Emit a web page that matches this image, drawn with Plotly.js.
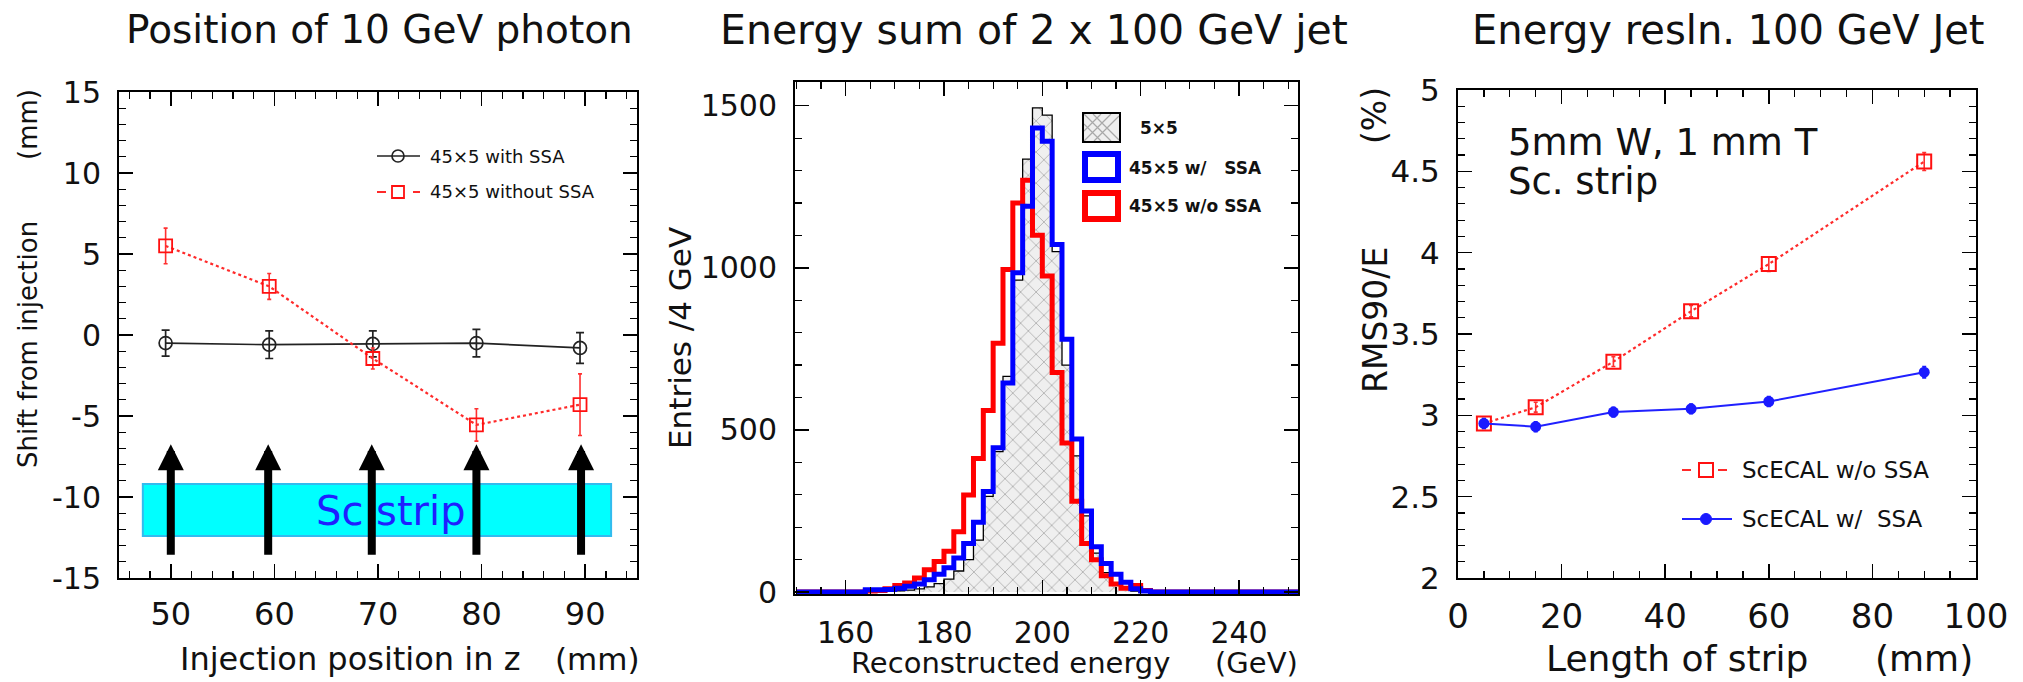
<!DOCTYPE html>
<html><head><meta charset="utf-8">
<script src="https://cdn.plot.ly/plotly-3.0.1.min.js"></script>
<style>html,body{margin:0;padding:0;background:#fff;} #chart{width:2023px;height:682px;}</style>
</head><body><div id="chart"></div>
<script>
// ---------- Panel 1: Position of 10 GeV photon ----------
const injectionZ = [49.5, 59.5, 69.5, 79.5, 89.5];
const shiftWithSSA = [-0.5, -0.6, -0.55, -0.5, -0.8];
const shiftWithSSAErr = [0.8, 0.85, 0.8, 0.85, 0.95];
const shiftWithoutSSA = [5.5, 3.0, -1.45, -5.55, -4.3];
const shiftWithoutSSAErr = [1.1, 0.8, 0.65, 1.0, 1.9];
const arrowZ = [50, 59.4, 69.4, 79.5, 89.6];
const shiftTickVals = [-15, -10, -5, 0, 5, 10, 15];
const shiftTickText = ['-15', '-10', '-5', '0', '5', '10', '15'];

// ---------- Panel 2: Energy sum of 2 x 100 GeV jet ----------
const energyEdges = [150, 164, 166, 168, 170, 172, 174, 176, 178, 180, 182, 184, 186, 188, 190, 192, 194, 196, 198, 200, 202, 204, 206, 208, 210, 212, 214, 216, 218, 220, 222, 252];
const entries5x5 = [0, 0, 2, 3, 4, 6, 10, 16, 26, 40, 65, 100, 160, 295, 433, 665, 962, 1335, 1493, 1471, 1050, 700, 420, 235, 120, 60, 25, 8, 3, 1, 0, 0];
const entriesWithSSA = [0, 7, 7, 8, 12, 18, 25, 38, 55, 75, 105, 150, 215, 310, 445, 645, 985, 1190, 1431, 1390, 1072, 780, 472, 250, 140, 88, 55, 30, 10, 3, 0, 0];
const entriesWithoutSSA = [0, 3, 5, 10, 20, 28, 43, 69, 94, 126, 186, 299, 412, 560, 767, 995, 1200, 1270, 1100, 975, 677, 460, 280, 150, 100, 50, 25, 12, 20, 5, 0, 0];

// ---------- Panel 3: Energy resln. 100 GeV Jet ----------
const stripLength = [5, 15, 30, 45, 60, 90];
const rmsWithoutSSA = [2.95, 3.05, 3.33, 3.64, 3.93, 4.56];
const rmsWithoutSSAErr = [0.03, 0.03, 0.03, 0.035, 0.045, 0.055];
const rmsWithSSA = [2.95, 2.93, 3.02, 3.04, 3.085, 3.265];
const rmsWithSSAErr = [0.03, 0.03, 0.03, 0.03, 0.03, 0.035];

// ---------- layout helpers (pixel -> paper) ----------
const W = 2023, H = 682;
const px = v => v / W;
const py = v => 1 - v / H;
const FONT = 'DejaVu Sans, Liberation Sans, Arial, sans-serif';

function frameAxis(extra) {
  return Object.assign({
    showline: true, linecolor: '#000', linewidth: 2, mirror: 'allticks',
    ticks: 'inside', ticklen: 14, tickwidth: 1.5, tickcolor: '#000',
    showgrid: false, zeroline: false, fixedrange: true,
    tickfont: {family: FONT, size: 30, color: '#111'}
  }, extra);
}

const traces = [
  // panel 1
  {x: injectionZ, y: shiftWithSSA, xaxis: 'x', yaxis: 'y', type: 'scatter', mode: 'lines+markers',
   line: {color: '#222', width: 1.7},
   marker: {symbol: 'circle-open', size: 13, color: '#222', line: {width: 1.7}},
   error_y: {type: 'data', array: shiftWithSSAErr, visible: true, color: '#222', thickness: 1.7, width: 4}},
  {x: injectionZ, y: shiftWithoutSSA, xaxis: 'x', yaxis: 'y', type: 'scatter', mode: 'lines+markers',
   line: {color: '#ff2a2a', width: 2.2, dash: 'dot'},
   marker: {symbol: 'square-open', size: 13, color: '#ff1010', line: {width: 1.8}},
   error_y: {type: 'data', array: shiftWithoutSSAErr, visible: true, color: '#ff3030', thickness: 1.6, width: 2}},
  // panel 2
  {x: energyEdges, y: entries5x5, xaxis: 'x2', yaxis: 'y2', type: 'scatter', mode: 'lines',
   line: {color: '#000', width: 1.3, shape: 'hv'}, fill: 'tozeroy', fillcolor: '#eeeeee',
   fillpattern: {shape: 'x', bgcolor: '#efefef', fgcolor: '#a9a9a9', size: 11, solidity: 0.14}},
  {x: energyEdges, y: entriesWithoutSSA, xaxis: 'x2', yaxis: 'y2', type: 'scatter', mode: 'lines',
   line: {color: '#ff0000', width: 5, shape: 'hv'}},
  {x: energyEdges, y: entriesWithSSA, xaxis: 'x2', yaxis: 'y2', type: 'scatter', mode: 'lines',
   line: {color: '#0000ff', width: 5, shape: 'hv'}},
  // panel 3
  {x: stripLength, y: rmsWithoutSSA, xaxis: 'x3', yaxis: 'y3', type: 'scatter', mode: 'lines+markers',
   line: {color: '#ff2a2a', width: 2.2, dash: 'dot'},
   marker: {symbol: 'square-open', size: 14, color: '#ff1010', line: {width: 2}},
   error_y: {type: 'data', array: rmsWithoutSSAErr, visible: true, color: '#ff3030', thickness: 1.6, width: 2}},
  {x: stripLength, y: rmsWithSSA, xaxis: 'x3', yaxis: 'y3', type: 'scatter', mode: 'lines+markers',
   line: {color: '#2020ff', width: 2},
   marker: {symbol: 'circle', size: 11, color: '#1a1aff'},
   error_y: {type: 'data', array: rmsWithSSAErr, visible: true, color: '#1a1aff', thickness: 1.6, width: 2}}
];

function ann(text, x, y, size, opts) {
  return Object.assign({text: text, x: px(x), y: py(y), xref: 'paper', yref: 'paper',
    showarrow: false, font: {family: FONT, size: size, color: '#111'}, xanchor: 'center', yanchor: 'middle'}, opts || {});
}

const annotations = [
  ann('Position of 10 GeV photon', 379, 30, 39),
  ann('Energy sum of 2 x 100 GeV jet', 1034, 30, 41),
  ann('Energy resln. 100 GeV Jet', 1728, 30, 40),
  // panel 1 axis titles
  ann('Shift from injection', 28, 345, 26, {textangle: -90}),
  ann('(mm)', 28, 125, 26, {textangle: -90}),
  ann('Injection position in z', 350, 659, 32),
  ann('(mm)', 597, 659, 31),
  // panel 1 legend text
  ann('45×5 with SSA', 428, 156, 18, {xanchor: 'left'}),
  ann('45×5 without SSA', 428, 192, 18, {xanchor: 'left'}),
  // Sc strip label
  {text: 'Sc strip', x: 71.3, y: -10.85, xref: 'x', yref: 'y', showarrow: false,
   font: {family: FONT, size: 40, color: '#1f1fff'}},
  // panel 2 axis titles
  ann('Entries /4 GeV', 680, 338, 31, {textangle: -90}),
  ann('Reconstructed energy', 1010, 663, 29),
  ann('(GeV)', 1256, 663, 29),
  // panel 2 legend text
  ann('<b>5×5</b>', 1138, 128, 17, {xanchor: 'left'}),
  ann('<b>45×5 w/   SSA</b>', 1127, 168, 17, {xanchor: 'left'}),
  ann('<b>45×5 w/o SSA</b>', 1127, 206, 17, {xanchor: 'left'}),
  // panel 3
  ann('RMS90/E', 1375, 320, 33, {textangle: -90}),
  ann('(%)', 1375, 116, 33, {textangle: -90}),
  ann('Length of strip', 1677, 658, 36),
  ann('(mm)', 1924, 658, 36),
  ann('5mm W, 1 mm T', 1506, 142, 37, {xanchor: 'left'}),
  ann('Sc. strip', 1506, 181, 37, {xanchor: 'left'}),
  ann('ScECAL w/o SSA', 1740, 470, 23, {xanchor: 'left'}),
  ann('ScECAL w/  SSA', 1740, 519, 23, {xanchor: 'left'})
];

// injection arrows
arrowZ.forEach(z => {
  annotations.push({x: z, y: -6.75, xref: 'x', yref: 'y', text: '', showarrow: true,
    ax: 0, ay: 112, arrowhead: 2, arrowwidth: 8, arrowsize: 0.65, arrowcolor: '#000'});
});

function rectPx(x0, y0, x1, y1, style) {
  return Object.assign({type: 'rect', xref: 'paper', yref: 'paper',
    x0: px(x0), x1: px(x1), y0: py(y1), y1: py(y0)}, style);
}
function linePx(x0, y0, x1, y1, style) {
  return Object.assign({type: 'line', xref: 'paper', yref: 'paper',
    x0: px(x0), x1: px(x1), y0: py(y0), y1: py(y1)}, style);
}
function circlePx(cx, cy, r, style) {
  return Object.assign({type: 'circle', xref: 'paper', yref: 'paper',
    x0: px(cx - r), x1: px(cx + r), y0: py(cy + r), y1: py(cy - r)}, style);
}
function pathPx(points) {
  return points.map(seg => 'M' + px(seg[0]) + ',' + py(seg[1]) + 'L' + px(seg[2]) + ',' + py(seg[3])).join('');
}

const shapes = [
  // Sc strip box
  {type: 'rect', xref: 'x', yref: 'y', x0: 47.3, x1: 92.5, y0: -12.4, y1: -9.2,
   fillcolor: '#00ffff', line: {color: '#33bbee', width: 2}, layer: 'below'},
  // panel 1 legend samples
  linePx(377, 156, 420, 156, {line: {color: '#222', width: 1.7}}),
  circlePx(398, 156, 6, {line: {color: '#222', width: 1.7}, fillcolor: 'rgba(0,0,0,0)'}),
  linePx(377, 192, 420, 192, {line: {color: '#ff2a2a', width: 2, dash: 'dash'}}),
  rectPx(392, 186, 404, 198, {line: {color: '#ff1010', width: 1.8}, fillcolor: '#fff'}),
  // panel 2 legend boxes
  rectPx(1083, 113, 1120, 142, {line: {color: '#000', width: 2}, fillcolor: '#efefef'}),
  {type: 'path', xref: 'paper', yref: 'paper', line: {color: '#a9a9a9', width: 1.2},
   path: pathPx([[1084, 114, 1111, 141], [1093, 114, 1119, 140], [1084, 124, 1101, 141],
                 [1111, 114, 1084, 141], [1119, 116, 1094, 141], [1101, 114, 1084, 131]])},
  rectPx(1083, 113, 1120, 142, {line: {color: '#000', width: 2}, fillcolor: 'rgba(0,0,0,0)'}),
  rectPx(1085, 154, 1118, 180, {line: {color: '#0000ff', width: 6}, fillcolor: '#fff'}),
  rectPx(1085, 193, 1118, 219, {line: {color: '#ff0000', width: 6}, fillcolor: '#fff'}),
  // panel 3 legend samples
  linePx(1682, 470, 1732, 470, {line: {color: '#ff2a2a', width: 2, dash: 'dash'}}),
  rectPx(1699, 463, 1713, 477, {line: {color: '#ff1010', width: 2}, fillcolor: '#fff'}),
  linePx(1682, 519, 1732, 519, {line: {color: '#2020ff', width: 2}}),
  circlePx(1706, 519, 5.5, {line: {color: '#1a1aff', width: 1}, fillcolor: '#1a1aff'})
];

const layout = {
  width: W, height: H, margin: {l: 0, r: 0, t: 0, b: 0},
  paper_bgcolor: '#fff', plot_bgcolor: '#fff', showlegend: false,
  font: {family: FONT, color: '#111'},
  xaxis: frameAxis({domain: [px(119), px(637)], range: [45, 95], dtick: 10, tick0: 0, anchor: 'y',
    minor: {dtick: 2, ticklen: 7, tickwidth: 1.2, ticks: 'inside', tickcolor: '#000'}, ticklabelstandoff: 7,
    tickfont: {family: FONT, size: 32, color: '#111'}}),
  yaxis: frameAxis({domain: [py(578), py(92)], range: [-15, 15], tickvals: shiftTickVals, ticktext: shiftTickText, anchor: 'x',
    minor: {dtick: 1, tick0: 0, ticklen: 7, tickwidth: 1.2, ticks: 'inside', tickcolor: '#000'}, ticklabelstandoff: 10,
    tickfont: {family: FONT, size: 30, color: '#111'}}),
  xaxis2: frameAxis({domain: [px(795), px(1298)], range: [149.7, 252], dtick: 20, tick0: 0, anchor: 'y2',
    minor: {dtick: 5, ticklen: 7, tickwidth: 1.2, ticks: 'inside', tickcolor: '#000'}, ticklabelstandoff: 11}),
  yaxis2: frameAxis({domain: [py(594), py(82)], range: [-6, 1573], dtick: 500, tick0: 0, anchor: 'x2',
    minor: {dtick: 100, tick0: 0, ticklen: 7, tickwidth: 1.2, ticks: 'inside', tickcolor: '#000'}, ticklabelstandoff: 10}),
  xaxis3: frameAxis({domain: [px(1458), px(1976)], range: [0, 100], dtick: 20, tick0: 0, anchor: 'y3',
    minor: {dtick: 5, ticklen: 7, tickwidth: 1.2, ticks: 'inside', tickcolor: '#000'}, ticklabelstandoff: 7,
    tickfont: {family: FONT, size: 34, color: '#111'}}),
  yaxis3: frameAxis({domain: [py(578), py(90)], range: [2, 5], dtick: 0.5, tick0: 0, anchor: 'x3',
    minor: {dtick: 0.1, tick0: 0, ticklen: 7, tickwidth: 1.2, ticks: 'inside', tickcolor: '#000'}, ticklabelstandoff: 10,
    tickfont: {family: FONT, size: 31, color: '#111'}}),
  annotations: annotations,
  shapes: shapes
};

Plotly.newPlot('chart', traces, layout, {displayModeBar: false, staticPlot: true});
</script>
</body></html>
